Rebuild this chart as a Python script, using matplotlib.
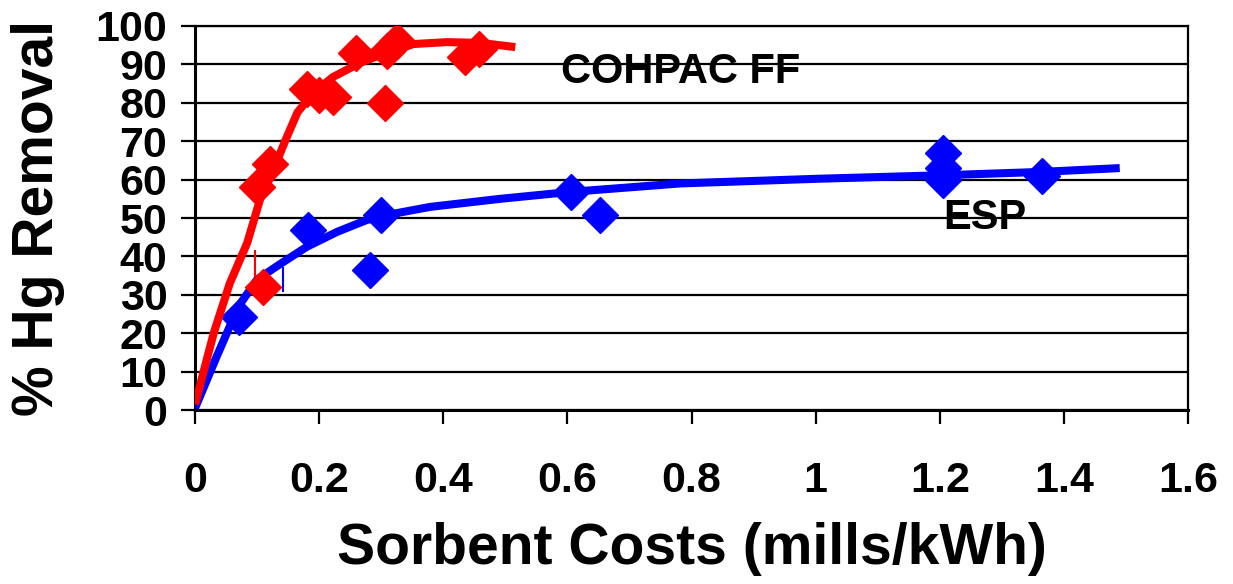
import numpy as np
import matplotlib.pyplot as plt

plt.rcParams['font.family'] = ['Liberation Sans', 'DejaVu Sans']
plt.rcParams['font.weight'] = 'bold'

# COHPAC FF measured points
ff_x = [0.10, 0.12, 0.11, 0.18, 0.20, 0.222, 0.26, 0.306, 0.31, 0.325, 0.435, 0.457]
ff_y = [58, 64, 32, 83.5, 82, 81.5, 93, 80, 93.5, 96, 92, 94]
# COHPAC FF fitted curve
ff_cx = [0, 0.03, 0.056, 0.084, 0.105, 0.125, 0.145, 0.165, 0.19, 0.222, 0.266, 0.298, 0.352, 0.406, 0.46, 0.516]
ff_cy = [1.5, 20, 33, 43.5, 55, 62, 70, 77.5, 82.5, 86.7, 90.4, 92.4, 95.3, 95.8, 95.6, 94.5]

# ESP measured points
esp_x = [0.07, 0.182, 0.282, 0.30, 0.605, 0.652, 1.206, 1.206, 1.206, 1.365]
esp_y = [24.2, 46.9, 36.5, 50.8, 56.8, 50.8, 66.9, 63, 60, 61]
# ESP fitted curve
esp_cx = [0, 0.035, 0.07, 0.10, 0.137, 0.18, 0.229, 0.277, 0.326, 0.379, 0.492, 0.605, 0.782, 1.0, 1.218, 1.363, 1.49]
esp_cy = [0.5, 14, 27, 34, 38, 42.5, 46.4, 49.5, 51.3, 52.9, 55, 56.8, 59, 60.2, 61.2, 62, 63]

# small error-bar stubs
ff_err_x, ff_err_lo, ff_err_hi = 0.097, 34.6, 41.7
esp_err_x, esp_err_lo, esp_err_hi = 0.142, 30.7, 37.2

fig = plt.figure(figsize=(12.33, 5.84), dpi=100)
ax = fig.add_axes([0.1582, 0.2979, 0.8053, 0.6576])

ax.plot(esp_cx, esp_cy, color='#0000ff', lw=5.8, solid_capstyle='butt', zorder=3)
ax.plot(esp_x, esp_y, 'D', color='#0000ff', ms=18.5, zorder=4)
ax.plot(ff_cx, ff_cy, color='#ff0000', lw=5.8, solid_capstyle='butt', zorder=5)
ax.plot(ff_x, ff_y, 'D', color='#ff0000', ms=18.5, zorder=6)
ax.vlines(ff_err_x, ff_err_lo, ff_err_hi, color='#ff0000', lw=1.5, zorder=6)
ax.vlines(esp_err_x, esp_err_lo, esp_err_hi, color='#0000ff', lw=1.5, zorder=6)

ax.text(0.589, 88, 'COHPAC FF', fontsize=30, fontweight='bold', va='center', ha='left')
ax.text(1.206, 50, 'ESP', fontsize=30, fontweight='bold', va='center', ha='left')

ax.set_xlim(0, 1.6)
ax.set_ylim(0, 100)
ax.set_xticks(np.arange(0, 1.61, 0.2))
ax.set_xticklabels(['0', '0.2', '0.4', '0.6', '0.8', '1', '1.2', '1.4', '1.6'])
ax.set_yticks(np.arange(0, 101, 10))
ax.yaxis.grid(True, color='black', lw=1.6)
ax.set_axisbelow(True)
ax.tick_params(axis='both', labelsize=31, width=1.6, length=10, direction='out', pad=10)
ax.tick_params(axis='x', pad=27)
for s in ['left', 'bottom']:
    ax.spines[s].set_linewidth(2.2)
for s in ['right', 'top']:
    ax.spines[s].set_linewidth(1.6)

ax.set_xlabel('Sorbent Costs (mills/kWh)', fontsize=41, fontweight='bold', labelpad=15)
ax.set_ylabel('% Hg Removal', fontsize=41, fontweight='bold', labelpad=22)

fig.savefig('out.png', dpi=100)
